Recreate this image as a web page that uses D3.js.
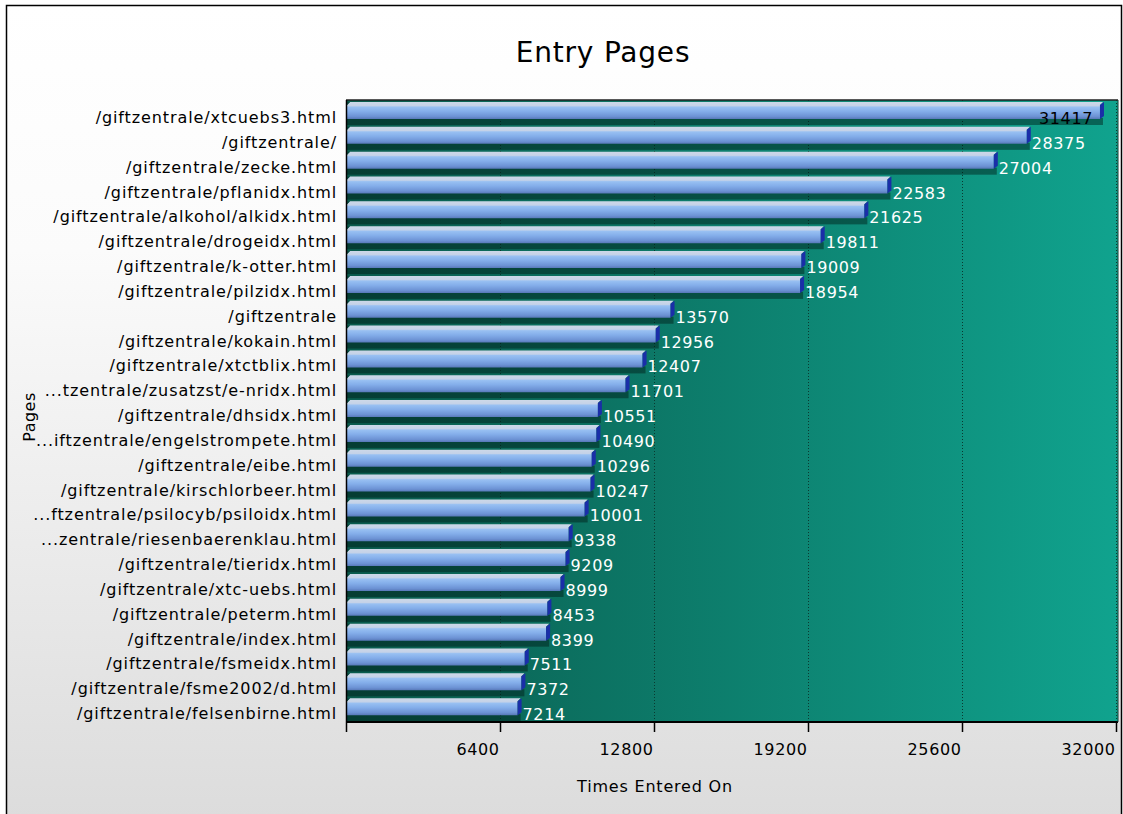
<!DOCTYPE html>
<html><head><meta charset="utf-8">
<script src="https://cdn.jsdelivr.net/npm/d3@7"></script>
<style>body{margin:0;background:#fff}svg{display:block}text{font-family:"DejaVu Sans",sans-serif}</style>
</head><body><svg id="c" width="1123" height="814"></svg>
<script>
const pages = ["/giftzentrale/xtcuebs3.html","/giftzentrale/","/giftzentrale/zecke.html","/giftzentrale/pflanidx.html","/giftzentrale/alkohol/alkidx.html","/giftzentrale/drogeidx.html","/giftzentrale/k-otter.html","/giftzentrale/pilzidx.html","/giftzentrale","/giftzentrale/kokain.html","/giftzentrale/xtctblix.html","...tzentrale/zusatzst/e-nridx.html","/giftzentrale/dhsidx.html","...iftzentrale/engelstrompete.html","/giftzentrale/eibe.html","/giftzentrale/kirschlorbeer.html","...ftzentrale/psilocyb/psiloidx.html","...zentrale/riesenbaerenklau.html","/giftzentrale/tieridx.html","/giftzentrale/xtc-uebs.html","/giftzentrale/peterm.html","/giftzentrale/index.html","/giftzentrale/fsmeidx.html","/giftzentrale/fsme2002/d.html","/giftzentrale/felsenbirne.html"];
const values = [31417,28375,27004,22583,21625,19811,19009,18954,13570,12956,12407,11701,10551,10490,10296,10247,10001,9338,9209,8999,8453,8399,7511,7372,7214];
const tickValues = [6400,12800,19200,25600,32000];
const title = "Entry Pages";
const xTitle = "Times Entered On";
const yTitle = "Pages";

const svg = d3.select("#c");
const W = 1123, H = 814;
const L = 346, T = 100, R = 1118, B = 722;
const x = d3.scaleLinear().domain([0, 32000]).range([L, 1116]);
const y = d3.scaleBand().domain(pages).range([T + 1, B]).padding(0);

const defs = svg.append("defs");
const bgG = defs.append("linearGradient").attr("id","bg").attr("x1",0).attr("y1",0).attr("x2",0).attr("y2",1);
bgG.append("stop").attr("offset","0%").attr("stop-color","#ffffff");
bgG.append("stop").attr("offset","30%").attr("stop-color","#fbfbfb");
bgG.append("stop").attr("offset","100%").attr("stop-color","#dcdcdc");
const plG = defs.append("linearGradient").attr("id","pl").attr("x1",0).attr("y1",0).attr("x2",1).attr("y2",0);
plG.append("stop").attr("offset","0%").attr("stop-color","#0a5b4d");
plG.append("stop").attr("offset","100%").attr("stop-color","#10a38e");
const barG = defs.append("linearGradient").attr("id","bar").attr("x1",0).attr("y1",0).attr("x2",0).attr("y2",1);
[["0%","#cdd8e8"],["22%","#c4d2e8"],["30%","#98c0f2"],["55%","#84aeea"],["85%","#6c92d4"],["100%","#5878b8"]]
  .forEach(([o,c]) => barG.append("stop").attr("offset",o).attr("stop-color",c));

// background
svg.append("rect").attr("x",0).attr("y",0).attr("width",W).attr("height",H).attr("fill","#fff");
svg.append("rect").attr("x",6.5).attr("y",5.5).attr("width",1115).attr("height",H).attr("fill","url(#bg)").attr("stroke","#000").attr("stroke-width",1.5);

// title
svg.append("text").attr("x",603).attr("y",62).attr("text-anchor","middle").attr("font-size",28).attr("letter-spacing",0.8).attr("fill","#000").text(title);

// plot area
svg.append("rect").attr("x",L).attr("y",T).attr("width",R-L).attr("height",B-T).attr("fill","url(#pl)");
// grid
svg.append("g").selectAll("line").data(tickValues).join("line")
  .attr("x1",d=>x(d)+0.5).attr("x2",d=>x(d)+0.5).attr("y1",T).attr("y2",B)
  .attr("stroke","#0a3a30").attr("stroke-width",1).attr("stroke-dasharray","1,2");

// bars
const bh = 17;
const g = svg.append("g");
const rows = g.selectAll("g").data(pages.map((p,i)=>({p, v: values[i], i}))).join("g");
// shadow
rows.append("rect").attr("x",L).attr("y",d=>y(d.p)+bh).attr("width",d=>x(d.v)-L+1).attr("height",7)
  .attr("fill","rgba(0,25,20,0.45)");
// bar body
rows.append("path").attr("d",d=>{
  const t = y(d.p)+1, b = t+bh, xe = x(d.v)-2, x0 = L+1;
  return `M${x0},${t+3}L${x0+3},${t}L${xe+3},${t}L${xe},${t+3}L${xe},${b}L${x0},${b}Z`;
}).attr("fill","url(#bar)");
// left dark notch
rows.append("path").attr("d",d=>{
  const t = y(d.p)+1, x0 = L+1;
  return `M${x0},${t+3}L${x0+3},${t}L${x0},${t}Z`;
}).attr("fill","#0a4a40");
// end cap
rows.append("path").attr("d",d=>{
  const t = y(d.p)+1, b = t+bh, xe = x(d.v)-2;
  return `M${xe},${t+3}L${xe+4},${t}L${xe+4},${b-3}L${xe},${b}Z`;
}).attr("fill","#1a2ea8");

// value labels
rows.append("text")
  .attr("x",d=> d.i===0 ? x(d.v)-9 : x(d.v)+3)
  .attr("y",d=>y(d.p)+23)
  .attr("text-anchor",d=> d.i===0 ? "end" : "start")
  .attr("font-size",16).attr("letter-spacing",0.6).attr("fill",d=> d.i===0 ? "#000" : "#fff")
  .text(d=>d.v);

// category labels
svg.append("g").selectAll("text").data(pages).join("text")
  .attr("x",337).attr("y",d=>y(d)+22)
  .attr("text-anchor","end").attr("font-size",16).attr("letter-spacing",0.9).attr("fill","#000").text(d=>d);

// axes lines
svg.append("line").attr("x1",L).attr("x2",R).attr("y1",T).attr("y2",T).attr("stroke","#222").attr("stroke-width",1.5);
svg.append("line").attr("x1",L).attr("x2",R).attr("y1",B).attr("y2",B).attr("stroke","#000").attr("stroke-width",2);
svg.append("line").attr("x1",L+0.5).attr("x2",L+0.5).attr("y1",T).attr("y2",B+10).attr("stroke","#000").attr("stroke-width",1.5);
svg.append("line").attr("x1",R).attr("x2",R).attr("y1",T).attr("y2",B).attr("stroke","#0a3a30").attr("stroke-width",1);

const ax = d3.axisBottom(x).tickValues(tickValues).tickSize(10).tickFormat(d3.format("d"));
const axg = svg.append("g").attr("transform",`translate(0,${B})`).call(ax);
axg.select(".domain").remove();
axg.selectAll(".tick line").attr("stroke","#000").attr("stroke-width",1.5);
axg.selectAll(".tick text").attr("font-size",16).attr("letter-spacing",0.6).attr("fill","#000").attr("text-anchor","end")
  .attr("x",-1).attr("dy",0).attr("y",33).style("font-family",'"DejaVu Sans",sans-serif');

// axis titles
svg.append("text").attr("x",655).attr("y",792).attr("text-anchor","middle").attr("font-size",16).attr("letter-spacing",0.8).attr("fill","#000").text(xTitle);
svg.append("text").attr("transform","translate(35,417) rotate(-90)").attr("text-anchor","middle").attr("font-size",16).attr("letter-spacing",0.5).attr("fill","#000").text(yTitle);
</script></body></html>
